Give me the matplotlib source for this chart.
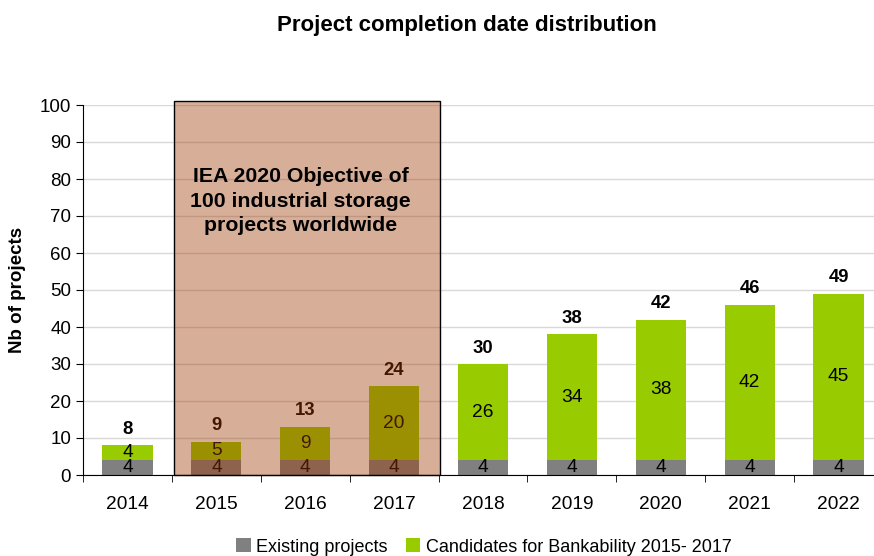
# plot.py - stacked bar chart of project completion dates
import numpy as np
import matplotlib
matplotlib.use('Agg')
import matplotlib.pyplot as plt
from matplotlib.patches import Rectangle, Patch

years = ['2014', '2015', '2016', '2017', '2018', '2019', '2020', '2021', '2022']
existing = [4, 4, 4, 4, 4, 4, 4, 4, 4]
candidates = [4, 5, 9, 20, 26, 34, 38, 42, 45]
yTicks = [0, 10, 20, 30, 40, 50, 60, 70, 80, 90, 100]
objectiveText = 'IEA 2020 Objective of\n100 industrial storage\nprojects worldwide'

plt.rcParams['font.family'] = ['Liberation Sans', 'DejaVu Sans']

greyColor = '#808080'
greenColor = '#99CC00'

fig = plt.figure(figsize=(8.74, 5.56), dpi=100)
ax = fig.add_axes([83 / 874, 81 / 556, 800 / 874, 370 / 556])

xPos = np.arange(len(years))
totals = [e + c for e, c in zip(existing, candidates)]
barWidth = 0.565

ax.set_axisbelow(True)
ax.yaxis.grid(True, color='#D9D9D9', linewidth=1.0)
ax.bar(xPos, existing, width=barWidth, color=greyColor, zorder=2)
ax.bar(xPos, candidates, bottom=existing, width=barWidth, color=greenColor, zorder=2)

for i in range(len(years)):
    ax.text(xPos[i], existing[i] / 2, str(existing[i]), ha='center', va='center',
            fontsize=13.8, color='black', zorder=3)
    ax.text(xPos[i], existing[i] + candidates[i] / 2, str(candidates[i]), ha='center',
            va='center', fontsize=13.8, color='black', zorder=3)
    ax.text(xPos[i], totals[i] + 4.3, str(totals[i]), ha='center', va='center',
            fontsize=13.3, fontweight='bold', color='black', zorder=3)

# translucent box over 2015-2017
ax.add_patch(Rectangle((0.52, 0), 3.0, 101, facecolor='#A03A06', alpha=0.41,
                       edgecolor='none', zorder=4, clip_on=False))
ax.add_patch(Rectangle((0.52, 0), 3.0, 101, facecolor='none', edgecolor='black',
                       linewidth=1.0, zorder=5, clip_on=False))
ax.text(1.95, 74, objectiveText, ha='center', va='center', fontsize=15.3,
        fontweight='bold', color='black', linespacing=1.38, zorder=6)

ax.set_xlim(-0.5, 8.5)
ax.set_ylim(0, 100)
ax.set_yticks(yTicks)
ax.set_xticks(xPos)
ax.set_xticklabels(years)
ax.set_xticks(np.arange(-0.5, 9.0, 1.0), minor=True)
ax.tick_params(axis='x', which='major', length=0, labelsize=13.8, pad=15)
ax.tick_params(axis='x', which='minor', length=5, direction='out', color='black')
ax.tick_params(axis='y', length=5, direction='out', labelsize=13.5, color='black')

for side in ['top', 'right']:
    ax.spines[side].set_visible(False)
ax.spines['left'].set_color('black')
ax.spines['bottom'].set_color('black')

ax.set_ylabel('Nb of projects', fontsize=13.5, fontweight='bold', labelpad=10)

fig.suptitle('Project completion date distribution', x=467 / 874, y=1 - 25 / 556,
             va='center', fontsize=16, fontweight='bold')

handles = [Patch(facecolor=greyColor, label='Existing projects'),
           Patch(facecolor=greenColor, label='Candidates for Bankability 2015- 2017')]
fig.legend(handles=handles, loc='center', bbox_to_anchor=(484 / 874, 1 - 547 / 556),
           ncol=2, frameon=False, fontsize=13, handlelength=0.8, handleheight=0.8,
           handletextpad=0.3, columnspacing=1.0)

plt.savefig('out.png', dpi=100)
plt.close()
